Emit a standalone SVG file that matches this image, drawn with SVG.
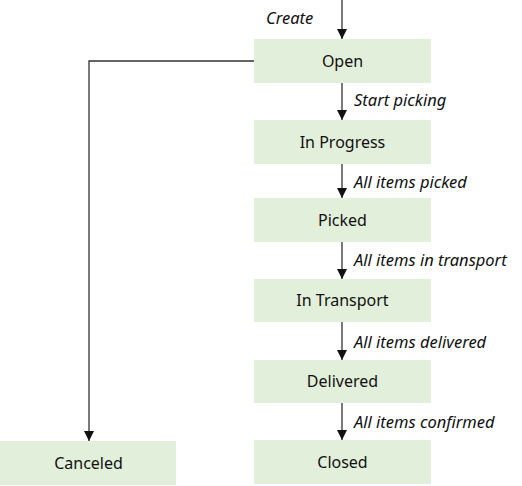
<svg xmlns="http://www.w3.org/2000/svg" width="522" height="486" viewBox="0 0 522 486">
<defs>
<style>
.box{fill:#e2efda;}
.t{font-family:"Noto Sans","Open Sans","Liberation Sans",sans-serif;font-size:16px;fill:#111;text-anchor:middle;}
.l{font-family:"Noto Sans","Open Sans","Liberation Sans",sans-serif;font-size:16.5px;font-style:italic;fill:#111;}
.c{stroke:#333;stroke-width:1.3;fill:none;marker-end:url(#ah);}
</style>
<marker id="ah" viewBox="0 0 10 10" refX="10" refY="5" markerWidth="10" markerHeight="10" markerUnits="userSpaceOnUse" orient="auto">
<path d="M0,0 L10,5 L0,10 z" fill="#111"/>
</marker>
</defs>
<rect width="522" height="486" fill="#fff"/>
<g id="connectors">
<line class="c" x1="342" y1="0" x2="342" y2="39"/>
<line class="c" x1="342" y1="83" x2="342" y2="120"/>
<line class="c" x1="342" y1="164" x2="342" y2="198"/>
<line class="c" x1="342" y1="242" x2="342" y2="279"/>
<line class="c" x1="342" y1="322" x2="342" y2="360"/>
<line class="c" x1="342" y1="403" x2="342" y2="440"/>
<polyline class="c" points="254,61 89,61 89,441"/>
<text class="l" x="266" y="24">Create</text>
<text class="l" x="354" y="106">Start picking</text>
<text class="l" x="354" y="188">All items picked</text>
<text class="l" x="354" y="266">All items in transport</text>
<text class="l" x="354" y="348">All items delivered</text>
<text class="l" x="354" y="428">All items confirmed</text>
</g>
<g id="open"><rect class="box" x="254" y="39" width="177" height="44"/><text class="t" x="342.5" y="67">Open</text></g>
<g id="inprogress"><rect class="box" x="254" y="120" width="177" height="44"/><text class="t" x="342.5" y="148">In Progress</text></g>
<g id="picked"><rect class="box" x="254" y="198" width="177" height="44"/><text class="t" x="342.5" y="226">Picked</text></g>
<g id="intransport"><rect class="box" x="254" y="279" width="177" height="43"/><text class="t" x="342.5" y="306">In Transport</text></g>
<g id="delivered"><rect class="box" x="254" y="360" width="177" height="43"/><text class="t" x="342.5" y="387">Delivered</text></g>
<g id="closed"><rect class="box" x="254" y="440" width="177" height="44"/><text class="t" x="342.5" y="468">Closed</text></g>
<g id="canceled"><rect class="box" x="0" y="441" width="176" height="44"/><text class="t" x="88.5" y="469">Canceled</text></g>
</svg>
